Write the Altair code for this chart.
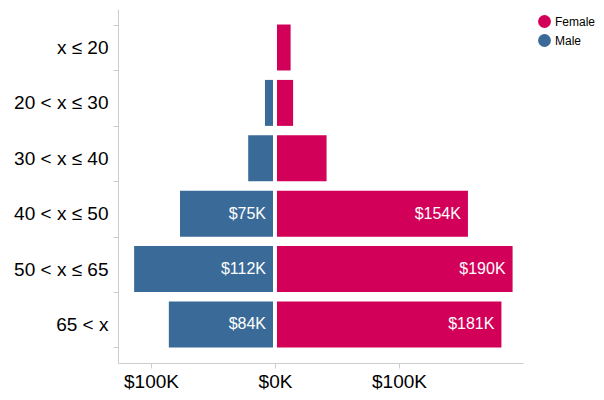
import altair as alt
import pandas as pd

age_groups = ["x ≤ 20", "20 < x ≤ 30", "30 < x ≤ 40", "40 < x ≤ 50", "50 < x ≤ 65", "65 < x"]
male = [0, 6.5, 20, 75, 112, 84]
female = [11, 13, 40, 154, 190, 181]
genders = ["Female", "Male"]
colors = ["#D20059", "#3A6B98"]

rows = []
for g, m, f in zip(age_groups, male, female):
    rows.append({"age": g, "gender": "Male", "value": m})
    rows.append({"age": g, "gender": "Female", "value": f})
df = pd.DataFrame(rows)

GAP = 1.6

base = alt.Chart(df).transform_calculate(
    x1="datum.gender == 'Male' ? -(datum.value + %f) : %f" % (GAP, GAP),
    x2="datum.gender == 'Male' ? -%f : datum.value + %f" % (GAP, GAP),
    label="'$' + format(datum.value, '.0f') + 'K'",
)

yenc = alt.Y(
    "age:N",
    sort=age_groups,
    title=None,
    scale=alt.Scale(paddingInner=0.17, paddingOuter=0.28),
    axis=alt.Axis(
        tickBand="extent",
        labelFontSize=19,
        labelColor="#000000",
        labelFont="Liberation Sans",
        labelPadding=5,
        tickSize=5,
        tickColor="#cccccc",
        domainColor="#cccccc",
    ),
)

xenc = alt.X(
    "x1:Q",
    title=None,
    scale=alt.Scale(domain=[-126.6, 200], nice=False, zero=False),
    axis=alt.Axis(
        values=[-100, 0, 100],
        labelExpr="'$' + abs(datum.value) + 'K'",
        labelFontSize=19,
        labelColor="#000000",
        labelFont="Liberation Sans",
        labelPadding=4,
        tickSize=5,
        tickColor="#cccccc",
        domainColor="#cccccc",
        grid=False,
    ),
)

bars = base.mark_bar().encode(
    x=xenc,
    x2="x2:Q",
    y=yenc,
    color=alt.Color(
        "gender:N",
        scale=alt.Scale(domain=genders, range=colors),
        title=None,
        legend=alt.Legend(
            orient="none",
            legendX=419,
            legendY=5,
            symbolType="circle",
            symbolSize=165,
            symbolOpacity=1,
            labelFontSize=12,
            labelFont="Liberation Sans",
            labelColor="#000000",
            labelOffset=3,
            rowPadding=5,
        ),
    ),
)

labels = base.transform_filter("datum.value >= 50").mark_text(
    align="right", baseline="middle", dx=-7, color="white", fontSize=16, font="Liberation Sans"
).encode(
    x=alt.X("x2:Q", title=None),
    y=alt.Y("age:N", sort=age_groups, title=None),
    text="label:N",
)

chart = alt.layer(bars, labels).properties(
    width=405,
    height=354,
    autosize=alt.AutoSizeParams(type="none"),
    padding={"left": 110, "top": 1, "right": 73, "bottom": 29},
).configure_view(stroke=None)

chart.save("out.html", embed_options={"renderer": "svg", "actions": False})
